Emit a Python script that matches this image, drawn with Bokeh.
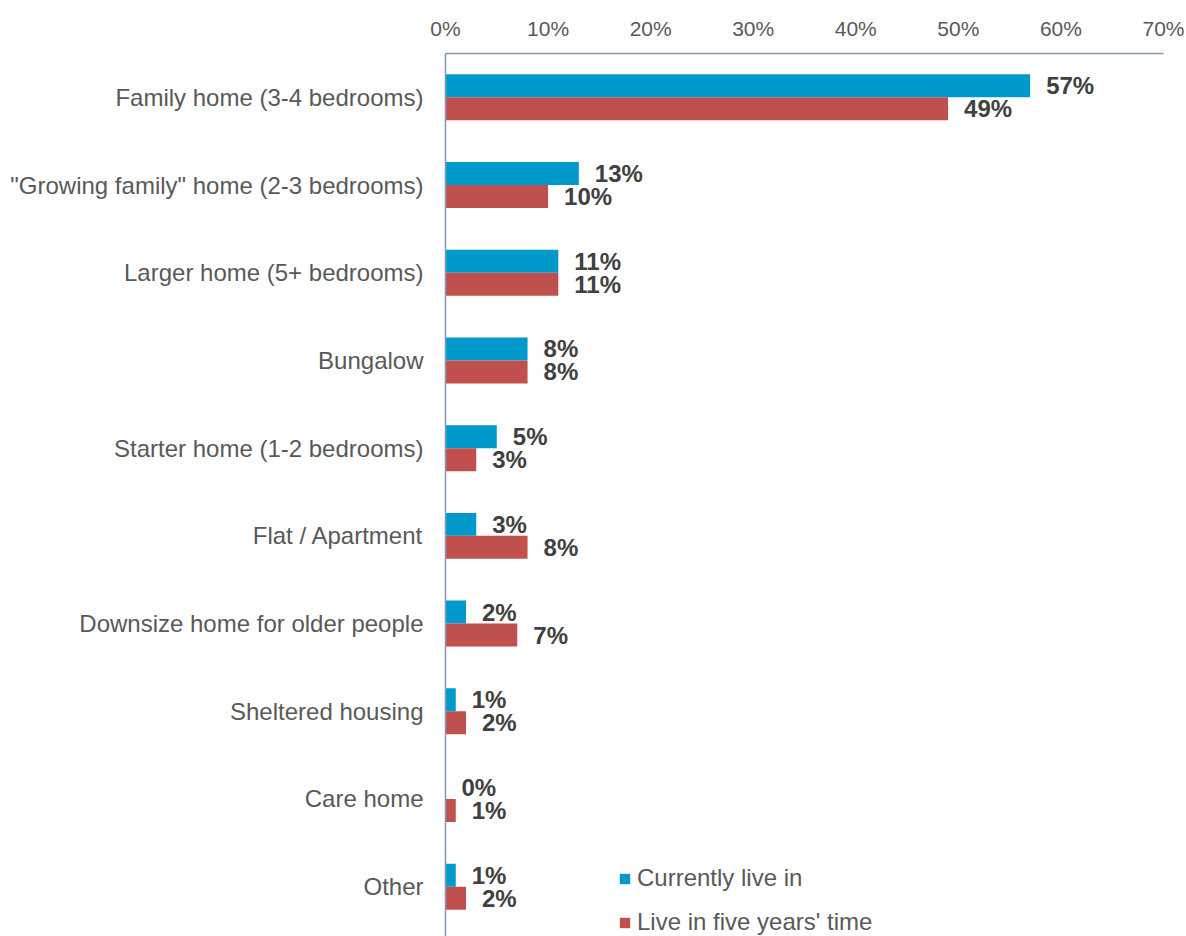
from bokeh.plotting import figure
from bokeh.models import Range1d, FixedTicker, Legend, LegendItem, ColumnDataSource
from bokeh.core.properties import value
from bokeh.embed import file_html
from bokeh.resources import INLINE

categories = [
    "Family home (3-4 bedrooms)",
    '"Growing family" home (2-3 bedrooms)',
    "Larger home (5+ bedrooms)",
    "Bungalow",
    "Starter home (1-2 bedrooms)",
    "Flat / Apartment",
    "Downsize home for older people",
    "Sheltered housing",
    "Care home",
    "Other",
]
current = [57, 13, 11, 8, 5, 3, 2, 1, 0, 1]
future = [49, 10, 11, 8, 3, 8, 7, 2, 1, 2]
series_names = ["Currently live in", "Live in five years' time"]
x_ticks = [0, 10, 20, 30, 40, 50, 60, 70]
x_tick_labels = ["0%", "10%", "20%", "30%", "40%", "50%", "60%", "70%"]

BLUE = "#0099CC"
RED = "#C0504D"
AXIS = "#8497B0"
TXT = "#595959"
LBL = "#404040"
FONT = "Liberation Sans"

n = len(categories)
ypos = [n - 1 - i for i in range(n)]
off = 0.131
bh = 0.262

src_c = ColumnDataSource(dict(y=[v + off for v in ypos], x=current,
                              t=[f"{v}%" for v in current]))
src_f = ColumnDataSource(dict(y=[v - off for v in ypos], x=future,
                              t=[f"{v}%" for v in future]))

p = figure(width=1186, height=936, output_backend="svg", toolbar_location=None,
           x_range=Range1d(0, 70), y_range=Range1d(-0.568, n - 1 + 0.5),
           x_axis_location="above", min_border_left=445, min_border_right=23,
           min_border_top=53, min_border_bottom=0)
p.outline_line_color = None
p.xgrid.visible = False
p.ygrid.visible = False
p.background_fill_color = "white"
p.border_fill_color = "white"

r_c = p.hbar(y="y", right="x", left=0, height=bh, source=src_c,
             fill_color=BLUE, line_color=None)
r_f = p.hbar(y="y", right="x", left=0, height=bh, source=src_f,
             fill_color=RED, line_color=None)

for src in (src_c, src_f):
    p.text(x="x", y="y", text="t", source=src, x_offset=16,
           text_align="left", text_baseline="middle",
           text_font=value(FONT), text_font_style="bold",
           text_font_size="24px", text_color=LBL)

xa = p.xaxis[0]
xa.ticker = FixedTicker(ticks=x_ticks)
xa.major_label_overrides = {t: l for t, l in zip(x_ticks, x_tick_labels)}
xa.axis_line_color = AXIS
xa.axis_line_width = 1.5
xa.major_tick_line_color = None
xa.minor_tick_line_color = None
xa.major_tick_out = 0
xa.major_tick_in = 0
xa.major_label_standoff = 14
xa.major_label_text_font = FONT
xa.major_label_text_font_size = "21px"
xa.major_label_text_color = TXT

ya = p.yaxis[0]
ya.ticker = FixedTicker(ticks=ypos)
ya.major_label_overrides = {y: c for y, c in zip(ypos, categories)}
ya.axis_line_color = AXIS
ya.axis_line_width = 1.5
ya.major_tick_line_color = None
ya.minor_tick_line_color = None
ya.major_tick_out = 0
ya.major_tick_in = 0
ya.major_label_standoff = 22
ya.major_label_text_font = FONT
ya.major_label_text_font_size = "24px"
ya.major_label_text_color = TXT

legend = Legend(items=[LegendItem(label=series_names[0], renderers=[r_c]),
                       LegendItem(label=series_names[1], renderers=[r_f])],
                location=(173, 0), orientation="vertical",
                glyph_width=13, glyph_height=13, label_standoff=6,
                spacing=16, padding=0, margin=0,
                border_line_color=None, background_fill_alpha=0,
                label_text_font=FONT, label_text_font_size="24px",
                label_text_color=TXT)
p.add_layout(legend, "center")

open("out.html", "w").write(file_html(p, INLINE))
